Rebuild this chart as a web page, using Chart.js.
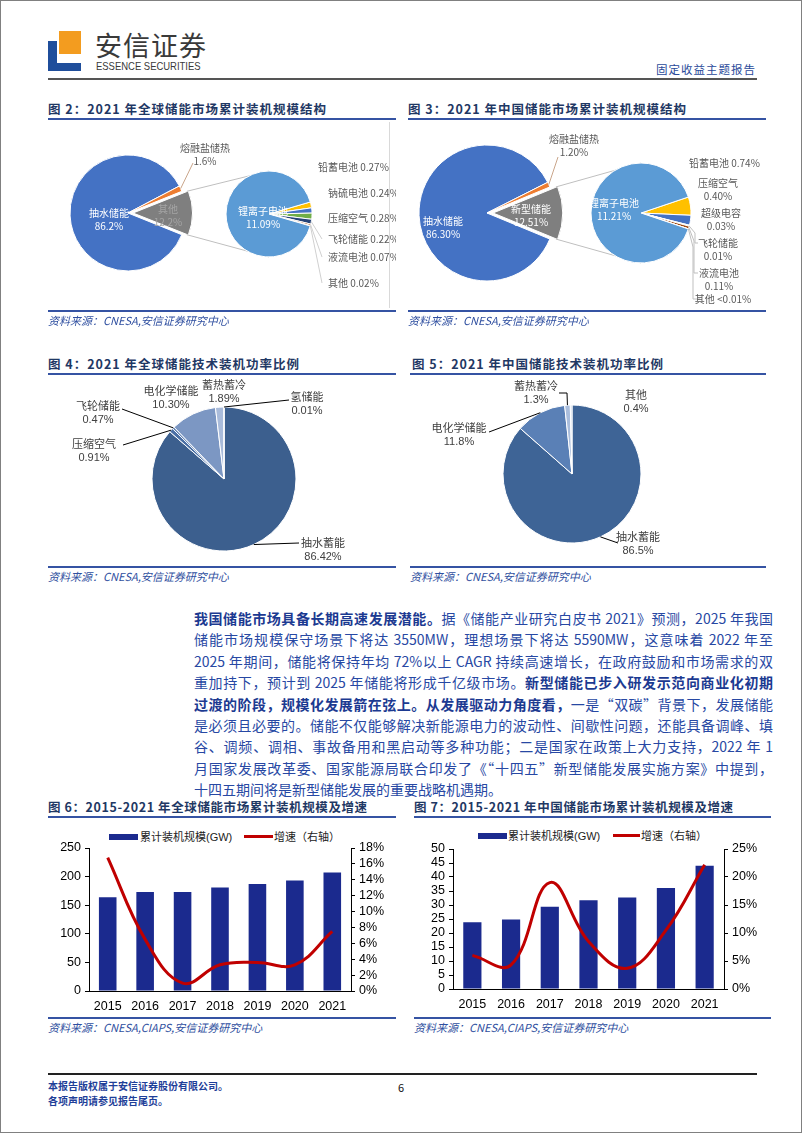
<!DOCTYPE html>
<html lang="zh-CN">
<head>
<meta charset="UTF-8">
<title>储能市场规模</title>
<script src="https://cdn.jsdelivr.net/npm/chart.js"></script>
<style>
  body { margin: 0; background: #fff; font-family: "Noto Sans CJK SC", "Liberation Sans", sans-serif; }
  #page { position: relative; width: 802px; height: 1133px; box-sizing: border-box; border: 1px solid #808080; overflow: hidden; }
  .abs { position: absolute; }
  .title { position: absolute; font-weight: bold; font-size: 12.5px; line-height: 16px; color: #1f3864; letter-spacing: 1px; white-space: nowrap; }
  .uline { position: absolute; height: 2px; background: #3553a3; }
  .src { position: absolute; font-style: italic; font-size: 11px; line-height: 14px; color: #2f4fa0; white-space: nowrap; }
  canvas { position: absolute; }
  .para { position: absolute; left: 193px; width: 579px; font-size: 14px; line-height: 21.4px; color: #2748a3; }
  .para div { text-align: justify; text-align-last: justify; white-space: nowrap; }
  .para div.last { text-align-last: left; }
  .para b { color: #1c3a91; }
  .leg { position: absolute; font-family: "Liberation Sans", "Noto Sans CJK SC", sans-serif; font-size: 11px; line-height: 14px; color: #222; white-space: nowrap; }
</style>
</head>
<body>
<div id="page">
  <!-- header -->
  <div class="abs" style="left:58px;top:30px;width:22px;height:23px;background:#f39c1f"></div>
  <div class="abs" style="left:47px;top:40px;width:9px;height:30px;background:#1f4e9b"></div>
  <div class="abs" style="left:47px;top:62px;width:33px;height:8px;background:#1f4e9b"></div>
  <div class="abs" style="left:94px;top:28px;font-size:27px;line-height:32px;color:#3a3a3a;letter-spacing:1px">安信证券</div>
  <div class="abs" style="left:95px;top:59px;font-family:'Liberation Sans',sans-serif;font-size:11px;line-height:13px;color:#3a3a3a;transform:scaleX(0.86);transform-origin:left top">ESSENCE SECURITIES</div>
  <div class="abs" style="left:655px;top:61px;font-size:11.5px;line-height:14px;color:#2a4a9a;letter-spacing:1px">固定收益主题报告</div>
  <div class="abs" style="left:47px;top:77px;width:709px;height:2px;background:#555"></div>

  <!-- fig 2 / 3 -->
  <div class="title" style="left:47px;top:100px">图 2：2021 年全球储能市场累计装机规模结构</div>
  <div class="uline" style="left:47px;top:117px;width:348px"></div>
  <div class="title" style="left:407px;top:100px">图 3：2021 年中国储能市场累计装机规模结构</div>
  <div class="uline" style="left:407px;top:117px;width:358px"></div>
  <div class="abs" style="left:388px;top:121px;width:1px;height:186px;background:#d9d9d9"></div>
  <canvas id="c2a" width="355" height="185" style="left:40px;top:120px"></canvas>
  <canvas id="c2b" width="355" height="185" style="left:40px;top:120px"></canvas>
  <canvas id="c3a" width="380" height="185" style="left:400px;top:120px"></canvas>
  <canvas id="c3b" width="380" height="185" style="left:400px;top:120px"></canvas>
  <div class="uline" style="left:47px;top:309px;width:348px"></div>
  <div class="src" style="left:47px;top:312px">资料来源：CNESA,安信证券研究中心</div>
  <div class="uline" style="left:407px;top:309px;width:358px"></div>
  <div class="src" style="left:407px;top:312px">资料来源：CNESA,安信证券研究中心</div>

  <!-- fig 4 / 5 -->
  <div class="title" style="left:47px;top:355px">图 4：2021 年全球储能技术装机功率比例</div>
  <div class="uline" style="left:47px;top:372px;width:348px"></div>
  <div class="title" style="left:411px;top:355px">图 5：2021 年中国储能技术装机功率比例</div>
  <div class="uline" style="left:409px;top:372px;width:356px"></div>
  <canvas id="c4" width="355" height="190" style="left:40px;top:375px"></canvas>
  <canvas id="c5" width="380" height="190" style="left:400px;top:375px"></canvas>
  <div class="uline" style="left:47px;top:565px;width:348px"></div>
  <div class="src" style="left:47px;top:568px">资料来源：CNESA,安信证券研究中心</div>
  <div class="uline" style="left:409px;top:565px;width:356px"></div>
  <div class="src" style="left:409px;top:568px">资料来源：CNESA,安信证券研究中心</div>

  <!-- paragraph -->
  <div class="para" style="top:607px">
    <div><b>我国储能市场具备长期高速发展潜能。</b>据《储能产业研究白皮书 2021》预测，2025 年我国</div>
    <div>储能市场规模保守场景下将达 3550MW，理想场景下将达 5590MW，这意味着 2022 年至</div>
    <div>2025 年期间，储能将保持年均 72%以上 CAGR 持续高速增长，在政府鼓励和市场需求的双</div>
    <div>重加持下，预计到 2025 年储能将形成千亿级市场。<b>新型储能已步入研发示范向商业化初期</b></div>
    <div><b>过渡的阶段，规模化发展箭在弦上。从发展驱动力角度看，</b>一是“双碳”背景下，发展储能</div>
    <div>是必须且必要的。储能不仅能够解决新能源电力的波动性、间歇性问题，还能具备调峰、填</div>
    <div>谷、调频、调相、事故备用和黑启动等多种功能；二是国家在政策上大力支持，2022 年 1</div>
    <div>月国家发展改革委、国家能源局联合印发了《“十四五”新型储能发展实施方案》中提到，</div>
    <div class="last">十四五期间将是新型储能发展的重要战略机遇期。</div>
  </div>

  <!-- fig 6 / 7 -->
  <div class="title" style="left:47px;top:798px;letter-spacing:0.6px">图 6：2015-2021 年全球储能市场累计装机规模及增速</div>
  <div class="uline" style="left:47px;top:815px;width:348px"></div>
  <div class="title" style="left:413px;top:798px;letter-spacing:0.6px">图 7：2015-2021 年中国储能市场累计装机规模及增速</div>
  <div class="uline" style="left:413px;top:815px;width:357px"></div>

  <div class="abs" style="left:108px;top:833px;width:29px;height:6px;background:#1b2a8e"></div>
  <div class="leg" style="left:139px;top:829px">累计装机规模(GW)</div>
  <div class="abs" style="left:243px;top:834px;width:29px;height:3px;background:#c00000"></div>
  <div class="leg" style="left:273px;top:829px">增速（右轴）</div>
  <canvas id="c6" width="355" height="187" style="left:40px;top:825px"></canvas>

  <div class="abs" style="left:477px;top:832px;width:29px;height:6px;background:#1b2a8e"></div>
  <div class="leg" style="left:507px;top:828px">累计装机规模(GW)</div>
  <div class="abs" style="left:612px;top:833px;width:27px;height:3px;background:#c00000"></div>
  <div class="leg" style="left:640px;top:828px">增速（右轴）</div>
  <canvas id="c7" width="380" height="187" style="left:400px;top:825px"></canvas>

  <div class="uline" style="left:47px;top:1016px;width:348px"></div>
  <div class="src" style="left:47px;top:1019px">资料来源：CNESA,CIAPS,安信证券研究中心</div>
  <div class="uline" style="left:413px;top:1016px;width:357px"></div>
  <div class="src" style="left:413px;top:1019px">资料来源：CNESA,CIAPS,安信证券研究中心</div>

  <!-- footer -->
  <div class="abs" style="left:47px;top:1072px;width:709px;height:2px;background:#222"></div>
  <div class="abs" style="left:47px;top:1078px;font-size:10px;line-height:14px;font-weight:bold;color:#1f3f99">本报告版权属于安信证券股份有限公司。</div>
  <div class="abs" style="left:47px;top:1093px;font-size:10px;line-height:14px;font-weight:bold;color:#1f3f99">各项声明请参见报告尾页。</div>
  <div class="abs" style="left:397px;top:1079px;font-size:11px;line-height:14px;color:#111">6</div>
</div>

<script>
// ---- data ----
// 图2：全球累计装机结构（%）
const globalMainLabels = ['其他', '抽水储能', '熔融盐储热'];
const globalMainValues = [12.2, 86.2, 1.6];
const globalSubLabels = ['铅蓄电池', '钠硫电池', '压缩空气', '飞轮储能', '液流电池', '其他', '锂离子电池'];
const globalSubValues = [0.27, 0.24, 0.28, 0.22, 0.07, 0.02, 11.09];

// 图3：中国累计装机结构（%）
const chinaMainLabels = ['新型储能', '抽水储能', '熔融盐储热'];
const chinaMainValues = [12.51, 86.30, 1.20];
const chinaSubLabels = ['铅蓄电池', '压缩空气', '超级电容', '飞轮储能', '液流电池', '其他', '锂离子电池'];
const chinaSubValues = [0.74, 0.40, 0.03, 0.01, 0.11, 0.005, 11.21];

// 图4：全球储能技术装机功率比例（%）
const globalTechLabels = ['抽水蓄能', '压缩空气', '飞轮储能', '电化学储能', '蓄热蓄冷', '氢储能'];
const globalTechValues = [86.42, 0.91, 0.47, 10.30, 1.89, 0.01];

// 图5：中国储能技术装机功率比例（%）
const chinaTechLabels = ['抽水蓄能', '电化学储能', '蓄热蓄冷', '其他'];
const chinaTechValues = [86.5, 11.8, 1.3, 0.4];

// 图6 / 图7
const years = ['2015', '2016', '2017', '2018', '2019', '2020', '2021'];
const globalCapacity = [164, 173, 173, 181, 187, 193, 207];   // GW
const globalGrowth = [16.8, 6.5, 1.0, 3.3, 3.6, 3.3, 7.5];     // %
const chinaCapacity = [23.8, 24.8, 29.4, 31.7, 32.7, 36.1, 44.0];
const chinaGrowth = [6.0, 4.3, 19.0, 8.5, 3.7, 10.5, 22.2];

// ---- helpers ----
function pct(v, d) {
  return v < 0.01 ? '<0.01%' : v.toFixed(d) + '%';
}

// pie placed with its centre at (cx, cy) in canvas px
function piePad(canvas, cx, cy) {
  const s = 20;
  return { left: cx - s, right: canvas.width - cx - s, top: cy - s, bottom: canvas.height - cy - s };
}

// labels + leader lines; positions are page coordinates
const pieLabels = {
  id: 'pieLabels',
  afterDatasetsDraw(chart, args, opts) {
    const ctx = chart.ctx;
    const ox = chart.canvas.offsetLeft, oy = chart.canvas.offsetTop;
    const arcs = chart.getDatasetMeta(0).data;
    (opts.items || []).forEach(it => {
      ctx.save();
      if (it.leader) {
        const a = arcs[it.index];
        const mid = (a.startAngle + a.endAngle) / 2;
        const sh = (a.options.offset || 0) / 4;
        const r = a.outerRadius * (it.r || 1);
        ctx.beginPath();
        ctx.moveTo(a.x + Math.cos(mid) * (r + sh), a.y + Math.sin(mid) * (r + sh));
        it.leader.forEach(p => ctx.lineTo(p[0] - ox, p[1] - oy));
        ctx.strokeStyle = it.leaderColor || opts.leaderColor || '#000';
        ctx.lineWidth = 1;
        ctx.stroke();
      }
      ctx.font = opts.font;
      ctx.fillStyle = it.color || opts.color;
      ctx.textAlign = it.align || 'center';
      ctx.textBaseline = 'middle';
      it.text.forEach((t, k) => ctx.fillText(t, it.x - ox, it.y - oy + k * opts.lineHeight));
      ctx.restore();
    });
  }
};

// connector lines from an exploded slice of the main pie to the secondary pie
const pieConnect = {
  id: 'pieConnect',
  beforeDatasetsDraw(chart, args, opts) {
    if (!opts.main) return;
    const m = opts.main.getDatasetMeta(0).data[opts.index];
    const s = chart.getDatasetMeta(0).data[0];
    const dx = opts.main.canvas.offsetLeft - chart.canvas.offsetLeft;
    const dy = opts.main.canvas.offsetTop - chart.canvas.offsetTop;
    const mid = (m.startAngle + m.endAngle) / 2;
    const sh = (m.options.offset || 0) / 4;
    const bx = m.x + Math.cos(mid) * sh + dx, by = m.y + Math.sin(mid) * sh + dy;
    const ctx = chart.ctx;
    ctx.save();
    ctx.strokeStyle = '#bfbfbf';
    ctx.lineWidth = 1;
    ctx.beginPath();
    ctx.moveTo(bx + Math.cos(m.startAngle) * m.outerRadius, by + Math.sin(m.startAngle) * m.outerRadius);
    ctx.lineTo(s.x, s.y - s.outerRadius);
    ctx.moveTo(bx + Math.cos(m.endAngle) * m.outerRadius, by + Math.sin(m.endAngle) * m.outerRadius);
    ctx.lineTo(s.x, s.y + s.outerRadius);
    ctx.stroke();
    ctx.restore();
  }
};

function pieChart(id, cx, cy, radius, values, colors, rotation, offsets, labelOpts, extra) {
  const canvas = document.getElementById(id);
  return new Chart(canvas, {
    type: 'pie',
    data: {
      datasets: [{
        data: values,
        backgroundColor: colors,
        borderColor: '#ffffff',
        borderWidth: 1,
        offset: offsets || 0,
        clip: false
      }]
    },
    options: {
      responsive: false,
      animation: false,
      radius: radius,
      rotation: rotation,
      layout: { padding: piePad(canvas, cx, cy) },
      plugins: {
        legend: { display: false },
        tooltip: { enabled: false },
        pieLabels: labelOpts,
        pieConnect: extra || {}
      }
    },
    plugins: [pieLabels, pieConnect]
  });
}

function sum(a) { return a.reduce((p, v) => p + v, 0); }

const smallFont = '10px "Noto Sans CJK SC", "Liberation Sans", sans-serif';
const techFont = '11px "Liberation Sans", "Noto Sans CJK SC", sans-serif';

// ---- 图2 ----
const g0 = globalMainValues[0] / sum(globalMainValues) * 360;
const c2a = pieChart('c2a', 87, 92, 58, globalMainValues, ['#7f7f7f', '#4472c4', '#ed7d31'],
  90 - g0 / 2, [20, 0, 0], {
    font: smallFont, lineHeight: 13, color: '#595959', leaderColor: '#c9a58a',
    items: [
      { index: 1, x: 108, y: 212, color: '#ffffff', text: [globalMainLabels[1], pct(globalMainValues[1], 1)] },
      { index: 0, x: 167, y: 208, color: '#a5a5a5', text: [globalMainLabels[0], pct(globalMainValues[0], 1)] },
      { index: 2, x: 204, y: 147, text: [globalMainLabels[2], pct(globalMainValues[2], 1)], leader: [[192, 162]] }
    ]
  });
const gSmall = sum(globalSubValues.slice(0, 6)) / sum(globalSubValues) * 360;
const subColors = ['#ffc000', '#4472c4', '#70ad47', '#264478', '#9e480e', '#636363', '#5b9bd5'];
const gSubY = [166, 192, 217, 238, 256, 282];
const gSubItems = gSubY.map((y, i) => ({
  index: i, x: i === 0 ? 317 : 327, y: y, align: 'left',
  text: [globalSubLabels[i] + ' ' + pct(globalSubValues[i], 2)],
  leader: i >= 3 ? [[321, y]] : null
}));
gSubItems.push({ index: 6, x: 262, y: 210, color: '#ffffff', text: [globalSubLabels[6], pct(globalSubValues[6], 2)] });
pieChart('c2b', 228, 93, 43, globalSubValues, subColors, 90 - gSmall / 2, 0, {
  font: smallFont, lineHeight: 13, color: '#595959', leaderColor: '#d0d0d0', items: gSubItems
}, { main: c2a, index: 0 });

// ---- 图3 ----
const h0 = chinaMainValues[0] / sum(chinaMainValues) * 360;
const c3a = pieChart('c3a', 86, 92, 68, chinaMainValues, ['#7f7f7f', '#4472c4', '#ed7d31'],
  90 - h0 / 2, [24, 0, 0], {
    font: smallFont, lineHeight: 13, color: '#595959', leaderColor: '#c9a58a',
    items: [
      { index: 1, x: 442, y: 220, color: '#ffffff', text: [chinaMainLabels[1], pct(chinaMainValues[1], 2)] },
      { index: 0, x: 530, y: 208, color: '#ffffff', text: [chinaMainLabels[0], pct(chinaMainValues[0], 2)] },
      { index: 2, x: 573, y: 138, text: [chinaMainLabels[2], pct(chinaMainValues[2], 2)], leader: [[557, 156]] }
    ]
  });
const hSmall = sum(chinaSubValues.slice(0, 6)) / sum(chinaSubValues) * 360;
const cSubItems = [
  { index: 0, x: 688, y: 162, align: 'left', text: [chinaSubLabels[0] + ' ' + pct(chinaSubValues[0], 2)] },
  { index: 1, x: 717, y: 182, text: [chinaSubLabels[1], pct(chinaSubValues[1], 2)] },
  { index: 2, x: 720, y: 212, text: [chinaSubLabels[2], pct(chinaSubValues[2], 2)] },
  { index: 3, x: 717, y: 242, text: [chinaSubLabels[3], pct(chinaSubValues[3], 2)], leader: [[694, 232], [694, 242], [697, 242]] },
  { index: 4, x: 718, y: 272, text: [chinaSubLabels[4], pct(chinaSubValues[4], 2)], leader: [[693, 240], [693, 272], [697, 272]] },
  { index: 5, x: 722, y: 298, text: [chinaSubLabels[5] + ' ' + pct(chinaSubValues[5], 2)], leader: [[692, 246], [692, 298], [699, 298]] },
  { index: 6, x: 613, y: 202, color: '#ffffff', text: [chinaSubLabels[6], pct(chinaSubValues[6], 2)] }
];
pieChart('c3b', 240, 92, 50, chinaSubValues, subColors, 90 - hSmall / 2, 0, {
  font: smallFont, lineHeight: 13, color: '#595959', leaderColor: '#bfbfbf', items: cSubItems
}, { main: c3a, index: 0 });

// ---- 图4 ----
pieChart('c4', 183, 103, 72, globalTechValues,
  ['#3c5f8e', '#4a6fa5', '#5679ae', '#7c97c3', '#a9bbda', '#c8d4e8'], 0, 0, {
    font: techFont, lineHeight: 13, color: '#404040', leaderColor: '#000',
    items: [
      { index: 0, x: 322, y: 543, text: [globalTechLabels[0], pct(globalTechValues[0], 2)], leader: [[298, 542]] },
      { index: 1, x: 93, y: 444, text: [globalTechLabels[1], pct(globalTechValues[1], 2)], leader: [[122, 444]] },
      { index: 2, x: 97, y: 406, text: [globalTechLabels[2], pct(globalTechValues[2], 2)], leader: [[121, 408]] },
      { index: 3, x: 170, y: 391, text: [globalTechLabels[3], pct(globalTechValues[3], 2)] },
      { index: 4, x: 223, y: 385, text: [globalTechLabels[4], pct(globalTechValues[4], 2)] },
      { index: 5, x: 306, y: 397, text: [globalTechLabels[5], pct(globalTechValues[5], 2)], leader: [[288, 399]] }
    ]
  });

// ---- 图5 ----
pieChart('c5', 171, 98, 69, chinaTechValues,
  ['#3e6496', '#5a80b6', '#a9bddc', '#c9d6ea'], 0, 0, {
    font: techFont, lineHeight: 13, color: '#404040', leaderColor: '#000',
    items: [
      { index: 0, x: 637, y: 537, text: [chinaTechLabels[0], pct(chinaTechValues[0], 1)], leader: [[617, 542]] },
      { index: 1, x: 458, y: 428, text: [chinaTechLabels[1], pct(chinaTechValues[1], 1)], leader: [[488, 431]] },
      { index: 2, x: 535, y: 386, text: [chinaTechLabels[2], pct(chinaTechValues[2], 1)], leader: [[566, 392], [558, 392]] },
      { index: 3, x: 635, y: 395, text: [chinaTechLabels[3], pct(chinaTechValues[3], 1)] }
    ]
  });

// ---- 图6 / 图7 ----
const tickFont = { family: '"Liberation Sans", Arial, sans-serif', size: 12.5 };

function comboChart(id, caps, growth, capMax, capStep, grMax, grStep, pad, leftW, rightW, xH) {
  return new Chart(document.getElementById(id), {
    type: 'bar',
    data: {
      labels: years,
      datasets: [
        {
          type: 'line', label: '增速（右轴）', data: growth, yAxisID: 'y1',
          borderColor: '#c00000', borderWidth: 3, tension: 0.4, pointRadius: 0, fill: false, order: 0
        },
        {
          type: 'bar', label: '累计装机规模(GW)', data: caps, yAxisID: 'y',
          backgroundColor: '#1b2a8e', barPercentage: 0.47, categoryPercentage: 1, order: 1
        }
      ]
    },
    options: {
      responsive: false,
      animation: false,
      layout: { padding: { top: pad, left: 0, right: 0, bottom: 0 } },
      plugins: { legend: { display: false }, tooltip: { enabled: false } },
      scales: {
        x: {
          grid: { display: false },
          border: { color: '#000', width: 1 },
          ticks: { color: '#000', font: tickFont, padding: 0, maxRotation: 0, autoSkip: false },
          afterFit(s) { s.height = xH; }
        },
        y: {
          position: 'left', min: 0, max: capMax,
          ticks: { stepSize: capStep, color: '#000', font: tickFont, padding: 4, autoSkip: false },
          grid: { drawOnChartArea: false, color: '#000', tickLength: 4 },
          border: { color: '#000', width: 1 },
          afterFit(s) { s.width = leftW; }
        },
        y1: {
          position: 'right', min: 0, max: grMax,
          ticks: { stepSize: grStep, color: '#000', font: tickFont, padding: 4, autoSkip: false, callback: v => v + '%' },
          grid: { drawOnChartArea: false, color: '#000', tickLength: 4 },
          border: { color: '#000', width: 1 },
          afterFit(s) { s.width = rightW; }
        }
      }
    }
  });
}

comboChart('c6', globalCapacity, globalGrowth, 250, 50, 18, 2, 22, 48, 45, 22);
comboChart('c7', chinaCapacity, chinaGrowth, 50, 5, 25, 5, 23, 52, 57, 24);
</script>
</body>
</html>
